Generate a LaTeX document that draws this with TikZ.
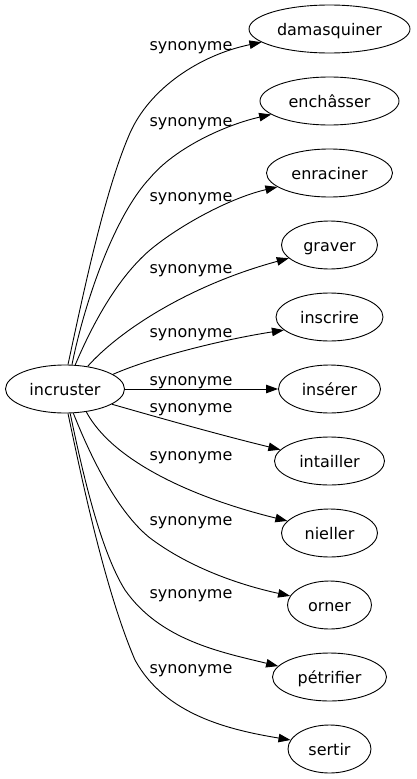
\documentclass[tikz,border=0pt]{standalone}
\usepackage{fontspec}
\setmainfont{DejaVu Sans}
\usetikzlibrary{arrows.meta,shapes.geometric}
\begin{document}
\begin{tikzpicture}[x=1pt,y=-1pt,
  word/.style={draw, ellipse, inner sep=0pt, minimum height=48pt,
    text height=12pt, text depth=0pt, font=\fontsize{16}{18}\selectfont, line width=0.9pt},
  rel/.style={font=\fontsize{16}{18}\selectfont, anchor=base, inner sep=0pt},
  link/.style={line width=0.9pt, -{Triangle[length=12pt,width=8.5pt]}}
]
\useasboundingbox (0,0) rectangle (416,779);
% nodes
\node[word, minimum width=119pt] (src) at (65,389) {incruster};
\node[word, minimum width=161pt] (t1) at (329.5,29) {damasquiner};
\node[word, minimum width=139pt] (t2) at (329.5,101) {enchâsser};
\node[word, minimum width=126pt] (t3) at (329.5,173) {enraciner};
\node[word, minimum width=96pt] (t4) at (329.5,245) {graver};
\node[word, minimum width=107pt] (t5) at (329.5,317) {inscrire};
\node[word, minimum width=102pt] (t6) at (329.5,389) {insérer};
\node[word, minimum width=110pt] (t7) at (329.5,461) {intailler};
\node[word, minimum width=96pt] (t8) at (329.5,533) {nieller};
\node[word, minimum width=84pt] (t9) at (329.5,605) {orner};
\node[word, minimum width=114pt] (t10) at (329.5,677) {pétrifier};
\node[word, minimum width=83pt] (t11) at (329.5,749) {sertir};
% labels
\node[rel] (l1) at (191,50) {synonyme};
\node[rel] (l2) at (191,126) {synonyme};
\node[rel] (l3) at (191,201.5) {synonyme};
\node[rel] (l4) at (191,273.3) {synonyme};
\node[rel] (l5) at (191,337.3) {synonyme};
\node[rel] (l6) at (191,385) {synonyme};
\node[rel] (l7) at (191,412.7) {synonyme};
\node[rel] (l8) at (191,460) {synonyme};
\node[rel] (l9) at (191,525) {synonyme};
\node[rel] (l10) at (191,598) {synonyme};
\node[rel] (l11) at (191,673.5) {synonyme};
% edges
\draw[link] (src.83) .. controls (84,290) and (105,190) .. (130,133)
  .. controls (150,88) and (200,55) .. (t1.191);
\draw[link] (src.74) .. controls (85,300) and (115,215) .. (150,178)
  .. controls (175,148) and (225,125) .. (t2.193);
\draw[link] (src.67) .. controls (90,330) and (115,280) .. (150,250)
  .. controls (180,225) and (230,198) .. (t3.195);
\draw[link] (src.45) .. controls (120,330) and (190,285) .. (t4.198);
\draw[link] (src.17) .. controls (150,358) and (220,340) .. (t5.196);
\draw[link] (src.east) -- (t6.west);
\draw[link] (src.342) .. controls (160,418) and (220,435) .. (t7.167);
\draw[link] (src.313) .. controls (112,460) and (190,497) .. (t8.164);
\draw[link] (src.289) .. controls (88,450) and (115,510) .. (150,538)
  .. controls (190,568) and (240,585) .. (t9.167);
\draw[link] (src.282) .. controls (82,470) and (100,550) .. (125,590)
  .. controls (160,640) and (220,652) .. (t10.168);
\draw[link] (src.277) .. controls (82,480) and (105,590) .. (135,660)
  .. controls (165,715) and (230,730) .. (t11.167);
\end{tikzpicture}
\end{document}
